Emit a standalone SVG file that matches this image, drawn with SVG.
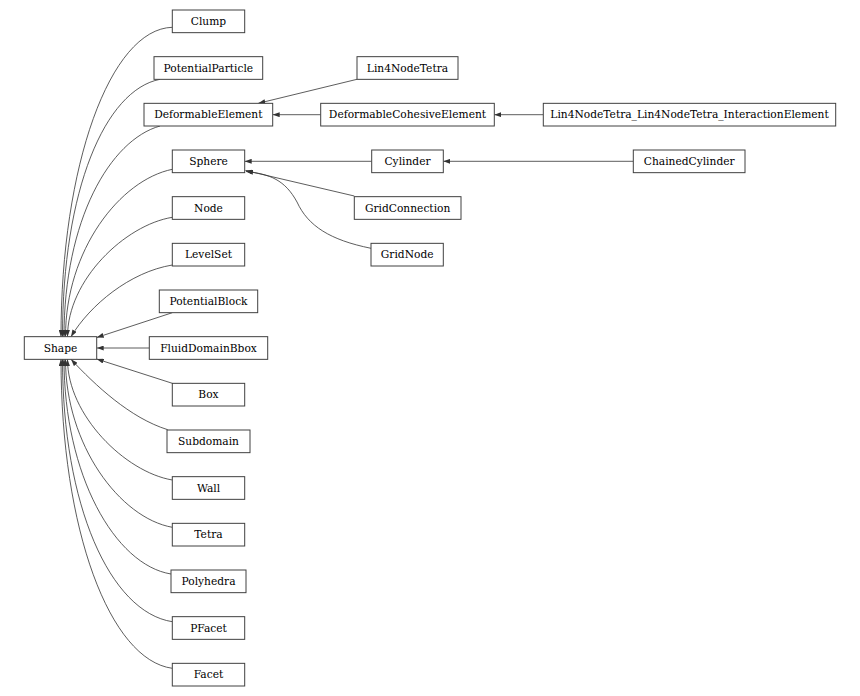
<svg xmlns="http://www.w3.org/2000/svg" width="860" height="696" viewBox="0 0 860 696">
<style>
.n rect{fill:#fff;stroke:#404040;stroke-width:1}
.n text{font-size:10.67px;fill:#000;text-anchor:middle}
#edges path{fill:none;stroke:#333;stroke-width:0.8;marker-end:url(#arr)}
</style>
<defs>
<marker id="arr" viewBox="0 0 10 10" refX="10" refY="5" markerUnits="userSpaceOnUse" markerWidth="7" markerHeight="5" orient="auto" preserveAspectRatio="none">
<path d="M0,0 L10,5 L0,10 z" fill="#333"/>
</marker>
</defs>
<rect width="860" height="696" fill="#fff"/>
<g id="edges">
<path d="M172.3,27.3 C110,29 61,166 61,336.7"/>
<path d="M160,79.3 C105,90 62.5,190 62.5,336.7"/>
<path d="M160,126 C110,140 64,220 64,336.7"/>
<path d="M172.3,169.3 C120,180 65.5,250 65.5,336.7"/>
<path d="M172.3,217.3 C125,225 67.5,280 67.5,336.7"/>
<path d="M172.3,265 C130,272 90,305 71,336.7"/>
<path d="M172.3,312.7 L96.7,337.5"/>
<path d="M149.3,348 L96.7,348"/>
<path d="M172.3,383.3 L96.7,359"/>
<path d="M167.7,429.7 C130,418 95,385 71,359.3"/>
<path d="M172.3,480 C125,472 67.5,415 67.5,359.3"/>
<path d="M172.3,527.3 C120,518 65.5,445 65.5,359.3"/>
<path d="M171,574 C115,565 64,475 64,359.3"/>
<path d="M172.3,621.7 C110,612 62.5,505 62.5,359.3"/>
<path d="M172.3,668.3 C110,660 61,530 61,359.3"/>
<path d="M357,79.3 L258.3,103.3"/>
<path d="M320.7,114.7 L272.7,114.7"/>
<path d="M543.3,114.7 L494.3,114.7"/>
<path d="M371.7,161.3 L244.7,161.3"/>
<path d="M633.3,161.3 L443.3,161.3"/>
<path d="M354.3,196 L245.5,170.5"/>
<path d="M371,248.3 C330,240 308,226 297,202 C285,180 270,174 246,171.5"/>
</g>
<g font-family="DejaVu Serif, serif">
<g id="Shape" class="n"><rect x="24.3" y="336.67" width="72.4" height="22.67"/><text x="60.5" y="351.7">Shape</text></g>
<g id="Clump" class="n"><rect x="172.3" y="10" width="72.4" height="22.67"/><text x="208.5" y="25">Clump</text></g>
<g id="PotentialParticle" class="n"><rect x="154" y="56.67" width="108.7" height="22.67"/><text x="208.35" y="71.7">PotentialParticle</text></g>
<g id="DeformableElement" class="n"><rect x="144" y="103.33" width="128.7" height="22.67"/><text x="208.35" y="118.4">DeformableElement</text></g>
<g id="Sphere" class="n"><rect x="172.3" y="150" width="72.4" height="22.67"/><text x="208.5" y="165">Sphere</text></g>
<g id="Node" class="n"><rect x="172.3" y="196.67" width="72.4" height="22.67"/><text x="208.5" y="211.7">Node</text></g>
<g id="LevelSet" class="n"><rect x="172.3" y="243.33" width="72.4" height="22.67"/><text x="208.5" y="258.4">LevelSet</text></g>
<g id="PotentialBlock" class="n"><rect x="159.3" y="290" width="98.4" height="22.67"/><text x="208.5" y="305">PotentialBlock</text></g>
<g id="FluidDomainBbox" class="n"><rect x="149.3" y="336.67" width="118.4" height="22.67"/><text x="208.5" y="351.7">FluidDomainBbox</text></g>
<g id="Box" class="n"><rect x="172.3" y="383.33" width="72.4" height="22.67"/><text x="208.5" y="398.4">Box</text></g>
<g id="Subdomain" class="n"><rect x="167" y="430" width="83" height="22.67"/><text x="208.5" y="445">Subdomain</text></g>
<g id="Wall" class="n"><rect x="172.3" y="476.67" width="72.4" height="22.67"/><text x="208.5" y="491.7">Wall</text></g>
<g id="Tetra" class="n"><rect x="172.3" y="523.33" width="72.4" height="22.67"/><text x="208.5" y="538.4">Tetra</text></g>
<g id="Polyhedra" class="n"><rect x="171" y="570" width="75" height="22.67"/><text x="208.5" y="585">Polyhedra</text></g>
<g id="PFacet" class="n"><rect x="172.3" y="616.67" width="72.4" height="22.67"/><text x="208.5" y="631.7">PFacet</text></g>
<g id="Facet" class="n"><rect x="172.3" y="663.33" width="72.4" height="22.67"/><text x="208.5" y="678.4">Facet</text></g>
<g id="Lin4NodeTetra" class="n"><rect x="357" y="56.67" width="101" height="22.67"/><text x="407.5" y="71.7">Lin4NodeTetra</text></g>
<g id="DeformableCohesiveElement" class="n"><rect x="320.7" y="103.33" width="173.6" height="22.67"/><text x="407.5" y="118.4">DeformableCohesiveElement</text></g>
<g id="Lin4NodeTetra_Lin4NodeTetra_InteractionElement" class="n"><rect x="543.3" y="103.33" width="292.4" height="22.67"/><text x="689.5" y="118.4">Lin4NodeTetra_Lin4NodeTetra_InteractionElement</text></g>
<g id="Cylinder" class="n"><rect x="371.7" y="150" width="71.6" height="22.67"/><text x="407.5" y="165">Cylinder</text></g>
<g id="ChainedCylinder" class="n"><rect x="633.3" y="150" width="111.7" height="22.67"/><text x="689.2" y="165">ChainedCylinder</text></g>
<g id="GridConnection" class="n"><rect x="354.3" y="196.67" width="106.7" height="22.67"/><text x="407.65" y="211.7">GridConnection</text></g>
<g id="GridNode" class="n"><rect x="371" y="243.33" width="72.3" height="22.67"/><text x="407.2" y="258.4">GridNode</text></g>
</g>
</svg>
